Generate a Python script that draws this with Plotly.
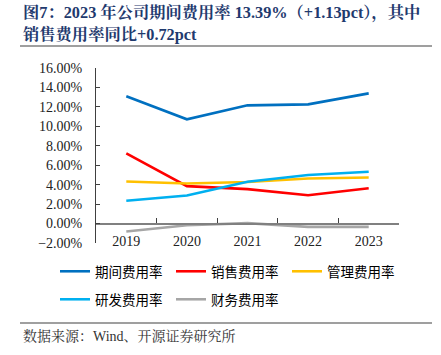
import plotly.graph_objects as go

years = ["2019", "2020", "2021", "2022", "2023"]
period_rate = [13.09, 10.72, 12.16, 12.26, 13.39]
sales_rate = [7.22, 3.85, 3.54, 2.92, 3.64]
admin_rate = [4.33, 4.12, 4.28, 4.64, 4.74]
rd_rate = [2.34, 2.89, 4.30, 4.99, 5.33]
fin_rate = [-0.82, -0.17, 0.04, -0.34, -0.34]

series_names = ["期间费用率", "销售费用率", "管理费用率", "研发费用率", "财务费用率"]
series_values = [period_rate, sales_rate, admin_rate, rd_rate, fin_rate]
series_colors = ["#0070C0", "#FF0000", "#FFC000", "#00B0F0", "#A6A6A6"]
series_legend = ["legend", "legend", "legend", "legend2", "legend2"]

W, H = 441, 355
L, R, T, B = 96, 42, 68, 112
pw, ph = W - L - R, H - T - B

def px_x(px):
    return (px - L) / pw

def px_y(py):
    return (H - B - py) / ph

SERIF = "Liberation Serif, Times New Roman, Noto Serif CJK SC, Noto Sans CJK SC, serif"
LEG_FONT = dict(family="Noto Sans CJK SC", size=13.5, color="black")

fig = go.Figure()
for name, vals, col, lg in zip(series_names, series_values, series_colors, series_legend):
    fig.add_trace(go.Scatter(x=years, y=vals, name=name, mode="lines", legend=lg,
                             line=dict(color=col, width=2.6)))

ymin, ymax = -2, 16
legend_common = dict(orientation="h", xanchor="left", yanchor="top",
                     entrywidth=71, entrywidthmode="pixels",
                     font=LEG_FONT, itemwidth=30, bgcolor="rgba(0,0,0,0)")
fig.update_layout(
    width=W, height=H,
    margin=dict(l=L, r=R, t=T, b=B, autoexpand=False),
    paper_bgcolor="white", plot_bgcolor="white",
    font=dict(family=SERIF, size=13, color="black"),
    showlegend=True,
    legend=dict(x=px_x(55), y=px_y(256), **legend_common),
    legend2=dict(x=px_x(55), y=px_y(284), **legend_common),
    xaxis=dict(type="category", range=[-0.5, 4.5], showline=False, ticks="",
               showticklabels=False, automargin=False,
               showgrid=False, zeroline=False),
    xaxis2=dict(type="category", overlaying="x", anchor="free",
                position=(0 - ymin) / (ymax - ymin), automargin=False,
                range=[-0.5, 4.5], categoryarray=years, categoryorder="array",
                tickson="boundaries", ticks="inside", ticklen=5, tickcolor="#404040",
                showticklabels=True, ticklabelstandoff=5,
                tickfont=dict(family=SERIF, size=14, color="#222222"),
                showline=True, linecolor="#808080", linewidth=1.5,
                showgrid=False, zeroline=False),
    yaxis=dict(range=[ymin, ymax], dtick=2, tickformat=".2f", ticksuffix="%",
               showline=True, linecolor="#404040", linewidth=1, automargin=False,
               ticks="inside", ticklen=4, tickcolor="#404040",
               ticklabelstandoff=10,
               showgrid=False, zeroline=False,
               tickfont=dict(family=SERIF, size=14, color="#222222")),
)
# trace on the zero-line category axis
fig.add_trace(go.Scatter(x=years, y=[None]*5, xaxis="x2", showlegend=False,
                         hoverinfo="skip", mode="lines"))

title_color = "#1F3A6E"
fig.add_annotation(text="<b>图7：2023 年公司期间费用率 13.39%（+1.13pct），其中</b>",
                   xref="paper", yref="paper", x=px_x(21), y=px_y(13),
                   xanchor="left", yanchor="middle", showarrow=False,
                   font=dict(family=SERIF, size=16.3, color=title_color))
fig.add_annotation(text="<b>销售费用率同比+0.72pct</b>",
                   xref="paper", yref="paper", x=px_x(21), y=px_y(35),
                   xanchor="left", yanchor="middle", showarrow=False,
                   font=dict(family=SERIF, size=16.3, color=title_color))
fig.add_annotation(text="数据来源：Wind、开源证券研究所",
                   xref="paper", yref="paper", x=px_x(21), y=px_y(336),
                   xanchor="left", yanchor="middle", showarrow=False,
                   font=dict(family=SERIF, size=14, color="#333333"))
for yy in (46, 323):
    fig.add_shape(type="line", xref="paper", yref="paper",
                  x0=px_x(20), x1=px_x(432), y0=px_y(yy), y1=px_y(yy),
                  line=dict(color="#7F7F7F", width=1.5))

fig.write_html("out.html", config={"displayModeBar": False},
               post_script="document.body.style.margin='0';document.body.style.overflow='hidden';")
